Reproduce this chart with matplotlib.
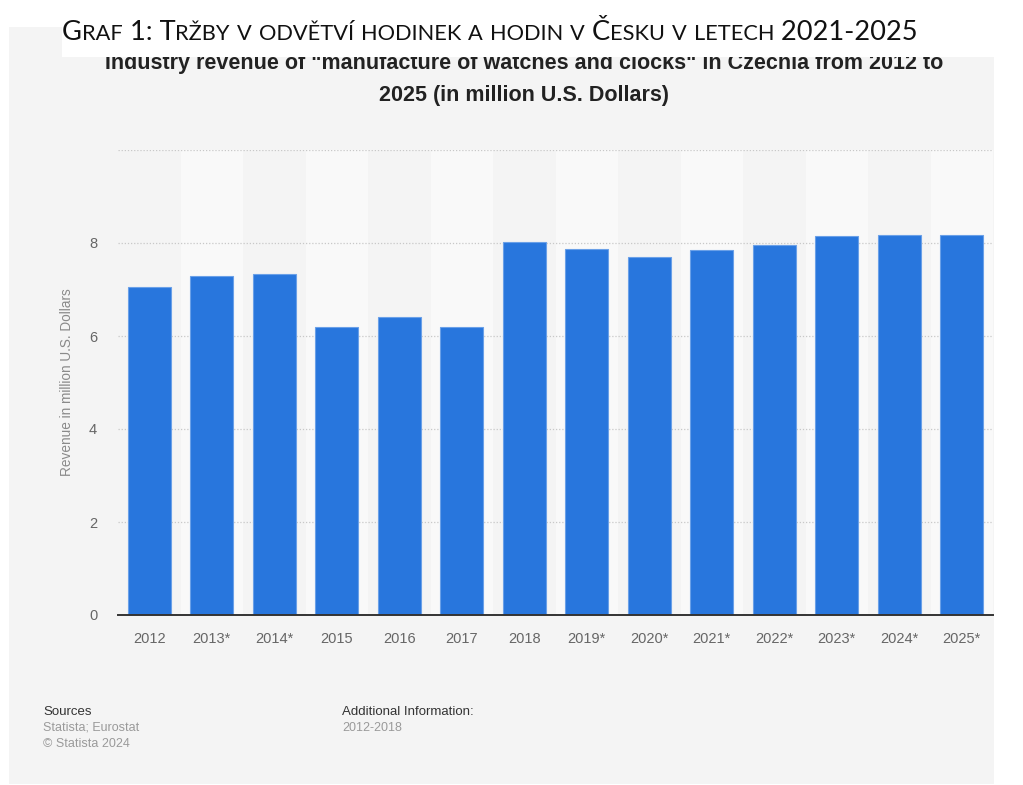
import matplotlib
matplotlib.use('Agg')
import matplotlib.pyplot as plt
from matplotlib.patches import Rectangle

plt.rcParams['font.family'] = ['Liberation Sans', 'DejaVu Sans']

years = ['2012', '2013*', '2014*', '2015', '2016', '2017', '2018',
         '2019*', '2020*', '2021*', '2022*', '2023*', '2024*', '2025*']
revenue = [7.05, 7.29, 7.34, 6.20, 6.40, 6.20, 8.03,
           7.88, 7.70, 7.85, 7.96, 8.14, 8.17, 8.17]
yticks = [0, 2, 4, 6, 8, 10]
ytick_labels = ['0', '2', '4', '6', '8', '']

W, H = 1023, 785
BLUE = '#2876dd'
PANEL = '#f4f4f4'

fig = plt.figure(figsize=(W / 100, H / 100), dpi=100, facecolor='white')

# grey card behind the chart, white strip for the heading
fig.patches.append(Rectangle((9 / W, 1 - 784 / H), 985 / W, 757 / H,
                             transform=fig.transFigure, fc=PANEL, ec='none', zorder=-5))

ax = fig.add_axes([118 / W, 1 - 615 / H, 875 / W, 465 / H])
ax.set_facecolor(PANEL)
ax.set_zorder(1)
x = range(len(years))
for i in x:
    if i % 2 == 1:
        ax.axvspan(i - 0.5, i + 0.5, color='#f9f9f9', lw=0, zorder=0)
ax.bar(x, revenue, width=0.69, color=BLUE, edgecolor='#6aa0e8', linewidth=0.8, zorder=3)

ax.set_xlim(-0.5, len(years) - 0.5)
ax.set_ylim(0, 10)
ax.set_yticks(yticks)
ax.set_yticklabels(ytick_labels)
ax.set_xticks(list(x))
ax.set_xticklabels(years)
ax.yaxis.grid(True, color='#c8c8c8', ls=(0, (1, 1.5)), lw=0.9, zorder=1)
ax.set_axisbelow(True)
for s in ['top', 'right', 'left']:
    ax.spines[s].set_visible(False)
ax.spines['bottom'].set_color('#333333')
ax.spines['bottom'].set_linewidth(1.4)
ax.spines['bottom'].set_zorder(4)
ax.tick_params(axis='both', length=0, colors='#666666', labelsize=10.5)
ax.tick_params(axis='x', pad=12)
ax.tick_params(axis='y', pad=15)
ax.set_ylabel('Revenue in million U.S. Dollars', color='#8a8a8a', fontsize=9.8, labelpad=11)

# subtitle (top of the first line hidden under the heading strip)
fig.text(524 / W, 1 - 64 / H, 'Industry revenue of "manufacture of watches and clocks" in Czechia from 2012 to',
         ha='center', va='center', fontsize=15.5, weight='bold', color='#222222', zorder=1)
fig.text(524 / W, 1 - 95 / H, '2025 (in million U.S. Dollars)',
         ha='center', va='center', fontsize=15.5, weight='bold', color='#222222', zorder=1)

fig.patches.append(Rectangle((62 / W, 1 - 57 / H), 932 / W, 57 / H,
                             transform=fig.transFigure, fc='white', ec='none', zorder=2))

# heading in small caps: capitals and digits full size, the rest reduced
heading = 'Graf 1: Tržby v odvětví hodinek a hodin v Česku v letech 2021-2025'
runs = []
for ch in heading:
    small = ch.islower()
    if runs and runs[-1][1] == small:
        runs[-1][0] += ch.upper()
    else:
        runs.append([ch.upper(), small])

def draw_heading(size):
    fig.canvas.draw()
    r = fig.canvas.get_renderer()
    xpos = 62
    arts = []
    for txt, small in runs:
        t = fig.text(xpos / W, 1 - 40 / H, txt, fontsize=size * (0.8 if small else 1.0),
                     family=['Lato', 'DejaVu Sans'], weight='normal', color='#111111',
                     ha='left', va='baseline', zorder=3)
        xpos += t.get_window_extent(r).width
        arts.append(t)
    return arts, xpos - 62

arts, width = draw_heading(22)
target = 851
for a in arts:
    a.remove()
arts, width = draw_heading(22 * target / width)

# footer
fig.text(43 / W, 1 - 712 / H, 'Sources', fontsize=9.5, color='#333333', va='center')
fig.text(43 / W, 1 - 728 / H, 'Statista; Eurostat', fontsize=9, color='#9a9a9a', va='center')
fig.text(43 / W, 1 - 744 / H, '\u00a9 Statista 2024', fontsize=9, color='#9a9a9a', va='center')
fig.text(342 / W, 1 - 712 / H, 'Additional Information:', fontsize=9.5, color='#333333', va='center')
fig.text(342 / W, 1 - 728 / H, '2012-2018', fontsize=9, color='#9a9a9a', va='center')

fig.savefig('out.png', dpi=100, facecolor='white')
